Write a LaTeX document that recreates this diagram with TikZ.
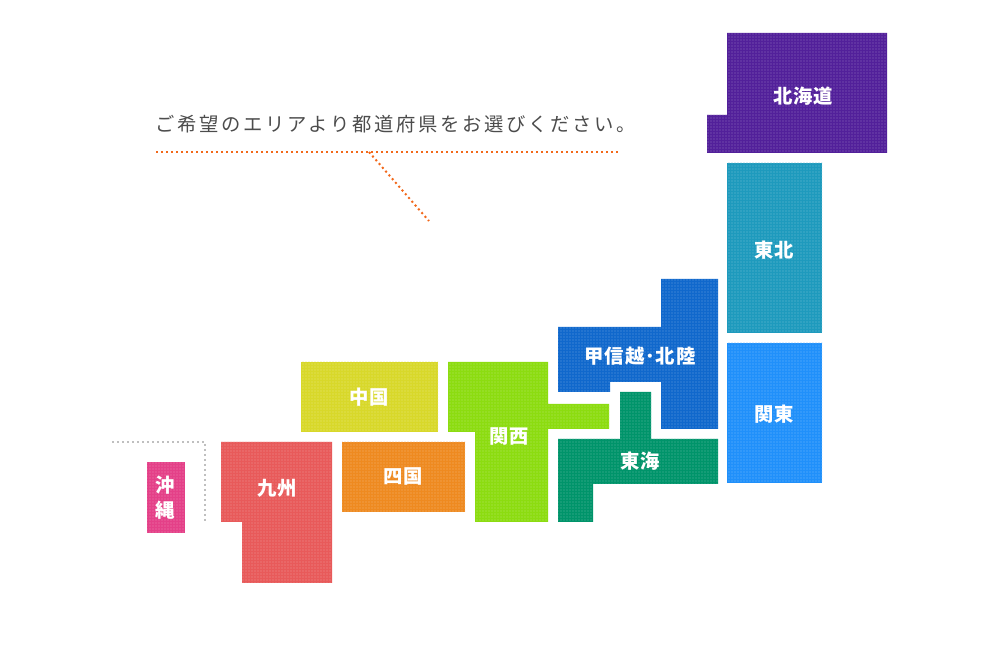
\documentclass[tikz,border=0pt]{standalone}
\usepackage{fontspec}
\setmainfont{Noto Sans CJK JP}
\newfontfamily\leadfont[LetterSpace=13.6]{Noto Sans CJK JP}
\newfontfamily\areafont[LetterSpace=5]{Noto Sans CJK JP}
\usetikzlibrary{patterns.meta}
\usetikzlibrary{positioning}
\definecolor{hokkaidoC}{HTML}{52209A}
\definecolor{tohokuC}{HTML}{1E9ABD}
\definecolor{kantoC}{HTML}{2090FA}
\definecolor{koshinC}{HTML}{1068CC}
\definecolor{tokaiC}{HTML}{00946A}
\definecolor{kansaiC}{HTML}{8CDC10}
\definecolor{chugokuC}{HTML}{D8D82A}
\definecolor{shikokuC}{HTML}{EE8A20}
\definecolor{kyushuC}{HTML}{E85A5A}
\definecolor{okinawaC}{HTML}{E44088}
\definecolor{leadC}{HTML}{F2681A}
\begin{document}
\begin{tikzpicture}
  [
    x = 0.75pt, y = -0.75pt,
    area/.style = {fill = #1,
                  postaction = {pattern = {Dots[distance = 2.25pt, radius = 0.4pt]},
                  pattern color = #1!65!white}},
    lead line/.style = {draw = leadC, line width = 1.5pt,
                  dash pattern = on 1.5pt off 2.25pt},
    sea line/.style = {draw = black!25, line width = 1.5pt,
                  dash pattern = on 1.5pt off 2.25pt},
    areaname/.style = {text = white, font = \areafont\bfseries\fontsize{14.5pt}{18.5pt}\selectfont,
                  align = center, inner sep = 0pt},
  ]
  \useasboundingbox (0,0) rectangle (1000,655);

  \fill[area = hokkaidoC] (727,33) -| (887,153) -| (707,115) -| cycle;
  \fill[area = tohokuC] (727,163) rectangle (822,333);
  \fill[area = kantoC] (727,343) rectangle (822,483);
  \fill[area = koshinC] (661,279) -| (718,429) -| (661,382) -| (610,392) -| (558,327) -| cycle;
  \fill[area = tokaiC] (620,392) -| (651,439) -| (718,484) -| (593,522) -| (558,439) -| cycle;
  \fill[area = kansaiC] (448,362) -| (548,404) -| (609,429) -| (548,522) -| (475,432) -| cycle;
  \fill[area = chugokuC] (301,362) rectangle (438,432);
  \fill[area = shikokuC] (342,442) rectangle (465,512);
  \fill[area = kyushuC] (221,442) -| (332,583) -| (242,522) -| cycle;
  \fill[area = okinawaC] (147,462) rectangle (185,533);

  \node[areaname] (hokkaido) at (803,96.5) {北海道};
  \node[areaname] (tohoku) at (774,250) {東北};
  \node[areaname] (kanto) at (774,414) {関東};
  \node[areaname] (koshin) at (640,356) {甲信越･北陸};
  \node[areaname] (tokai) at (640,461) {東海};
  \node[areaname] (kansai) at (509,437) {関西};
  \node[areaname] (chugoku) at (369,397.5) {中国};
  \node[areaname] (shikoku) at (403,476.5) {四国};
  \node[areaname] (kyushu) at (277,488) {九州};
  \node[areaname] (okinawa) at (165,497.5) {沖\\縄};

  \node[anchor = west, inner sep = 0pt, text = black!70,
        font = \leadfont\fontsize{14.5pt}{16pt}\selectfont] (lead) at (155,124)
    {ご希望のエリアより都道府県をお選びください。};

  \coordinate (rule_l) at (156,152);
  \coordinate (rule_r) at (620,152);
  \coordinate (rule_m) at (369,152);
  \coordinate (rule_e) at (429,221);
  \draw[lead line] (rule_l) -- (rule_r);
  \draw[lead line] (rule_m) -- (rule_e);

  \coordinate (sea_l) at (112,442);
  \coordinate (sea_c) at (205,442);
  \coordinate (sea_e) at (205,521);
  \draw[sea line] (sea_l) -- (sea_c) -- (sea_e);
\end{tikzpicture}
\end{document}
